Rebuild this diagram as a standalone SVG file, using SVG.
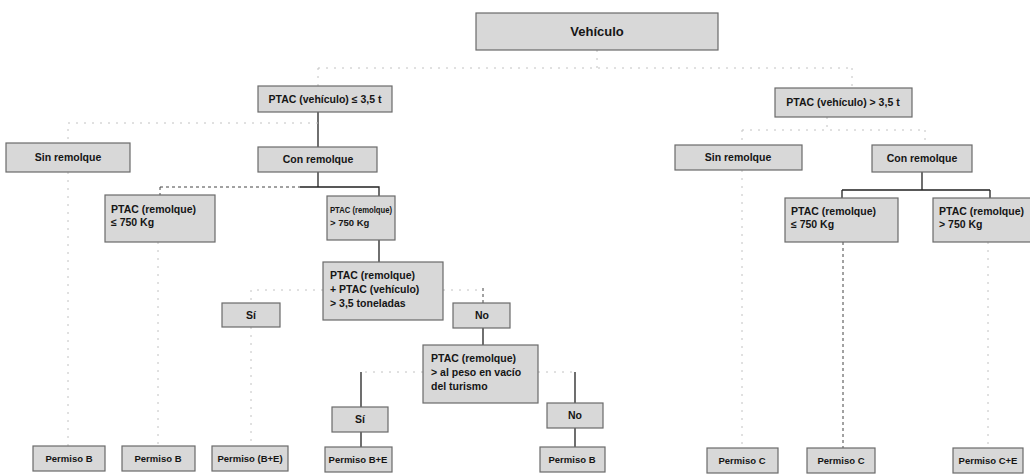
<svg xmlns="http://www.w3.org/2000/svg" width="1030" height="474" viewBox="0 0 1030 474">
<style>
.box{fill:#d8d8d8;stroke:#6a6a6a;stroke-width:1.2}
.t{font-family:"Liberation Sans",Arial,sans-serif;font-size:10.5px;font-weight:bold;fill:#151515}
.s{font-size:9.5px}
.c{text-anchor:middle}
.solid{fill:none;stroke:#222;stroke-width:1.3}
.faint{fill:none;stroke:#c2c2c2;stroke-width:1;stroke-dasharray:2 6}
.dash{fill:none;stroke:#444;stroke-width:1;stroke-dasharray:3 3}
</style>
<rect width="1030" height="474" fill="#fff"/>
<g id="connectors">
  <path class="faint" d="M597 50 V68 M318 68 H852 M318 68 V86 M852 68 V88"/>
  <path class="solid" d="M318 112 V147"/>
  <path class="faint" d="M318 123 H68 V143"/>
  <path class="faint" d="M68 172 V446"/>
  <path class="solid" d="M318 172 V187"/>
  <path class="dash" d="M160 187 H300"/>
  <path class="solid" d="M300 187 H379 V196"/>
  <path class="dash" d="M160 187 V195"/>
  <path class="faint" d="M158 242 V446"/>
  <path class="solid" d="M379 240 V262"/>
  <path class="faint" d="M323 290 H251 V303 M443 290 H483"/>
  <path class="dash" d="M483 288 V303"/>
  <path class="faint" d="M251 327 V446"/>
  <path class="solid" d="M483 328 V345"/>
  <path class="faint" d="M423 372 H361 M538 372 H575"/>
  <path class="solid" d="M361 372 V407 M361 432 V447"/>
  <path class="solid" d="M575 372 V403 M575 428 V447"/>
  <path class="faint" d="M827 117 V130 M742 130 H925 M742 130 V145 M925 130 V145"/>
  <path class="faint" d="M742 170 V448"/>
  <path class="solid" d="M922 172 V190 M842 190 H990 M842 190 V198 M990 190 V198"/>
  <path class="dash" d="M843 242 V448"/>
  <path class="faint" d="M988 242 V448"/>
</g>
<g id="n-vehiculo"><rect class="box" x="476" y="13" width="242" height="37"/><text class="t c" x="597" y="36" style="font-size:13px">Vehículo</text></g>
<g id="n-ptac-le35"><rect class="box" x="258" y="86" width="134" height="26"/><text class="t c" x="325" y="103">PTAC (vehículo) ≤ 3,5 t</text></g>
<g id="n-sin-rem-l"><rect class="box" x="6" y="143" width="124" height="29"/><text class="t c" x="68" y="161">Sin remolque</text></g>
<g id="n-con-rem-l"><rect class="box" x="258" y="147" width="119" height="25"/><text class="t c" x="318" y="163">Con remolque</text></g>
<g id="n-rem-le750-l"><rect class="box" x="105" y="195" width="110" height="47"/><text class="t" x="111" y="213">PTAC (remolque)</text><text class="t" x="111" y="226">≤ 750 Kg</text></g>
<g id="n-rem-gt750-l"><rect class="box" x="327" y="196" width="68" height="44"/><text class="t s" x="330" y="213" textLength="62" lengthAdjust="spacingAndGlyphs">PTAC (remolque)</text><text class="t s" x="330" y="226">&gt; 750 Kg</text></g>
<g id="n-suma"><rect class="box" x="323" y="262" width="120" height="58"/><text class="t" x="330" y="279">PTAC (remolque)</text><text class="t" x="330" y="293">+ PTAC (vehículo)</text><text class="t" x="330" y="307">&gt; 3,5 toneladas</text></g>
<g id="n-si-1"><rect class="box" x="222" y="303" width="58" height="24"/><text class="t c" x="251" y="319">Sí</text></g>
<g id="n-no-1"><rect class="box" x="453" y="303" width="57" height="25"/><text class="t c" x="482" y="319">No</text></g>
<g id="n-tara"><rect class="box" x="423" y="345" width="115" height="58"/><text class="t" x="431" y="362">PTAC (remolque)</text><text class="t" x="431" y="376">&gt; al peso en vacío</text><text class="t" x="431" y="390">del turismo</text></g>
<g id="n-si-2"><rect class="box" x="332" y="407" width="56" height="25"/><text class="t c" x="360" y="423">Sí</text></g>
<g id="n-no-2"><rect class="box" x="547" y="403" width="56" height="25"/><text class="t c" x="575" y="419">No</text></g>
<g id="n-perm-b1"><rect class="box" x="33" y="446" width="72" height="25"/><text class="t c s" x="69" y="462">Permiso B</text></g>
<g id="n-perm-b2"><rect class="box" x="122" y="446" width="73" height="25"/><text class="t c s" x="158" y="462">Permiso B</text></g>
<g id="n-perm-be1"><rect class="box" x="212" y="446" width="76" height="25"/><text class="t c s" x="250" y="462">Permiso (B+E)</text></g>
<g id="n-perm-be2"><rect class="box" x="325" y="447" width="67" height="25"/><text class="t c s" x="358" y="463">Permiso B+E</text></g>
<g id="n-perm-b3"><rect class="box" x="540" y="447" width="65" height="25"/><text class="t c s" x="572" y="463">Permiso B</text></g>
<g id="n-ptac-gt35"><rect class="box" x="775" y="88" width="137" height="29"/><text class="t c" x="843" y="106">PTAC (vehículo) &gt; 3,5 t</text></g>
<g id="n-sin-rem-r"><rect class="box" x="675" y="145" width="127" height="25"/><text class="t c" x="738" y="161">Sin remolque</text></g>
<g id="n-con-rem-r"><rect class="box" x="872" y="145" width="100" height="27"/><text class="t c" x="922" y="162">Con remolque</text></g>
<g id="n-rem-le750-r"><rect class="box" x="785" y="198" width="113" height="44"/><text class="t" x="791" y="215">PTAC (remolque)</text><text class="t" x="791" y="228">≤ 750 Kg</text></g>
<g id="n-rem-gt750-r"><rect class="box" x="933" y="198" width="105" height="44"/><text class="t" x="939" y="215">PTAC (remolque)</text><text class="t" x="939" y="228">&gt; 750 Kg</text></g>
<g id="n-perm-c1"><rect class="box" x="707" y="448" width="71" height="25"/><text class="t c s" x="742" y="464">Permiso C</text></g>
<g id="n-perm-c2"><rect class="box" x="807" y="448" width="68" height="25"/><text class="t c s" x="841" y="464">Permiso C</text></g>
<g id="n-perm-ce"><rect class="box" x="953" y="448" width="70" height="25"/><text class="t c s" x="988" y="464">Permiso C+E</text></g>
</svg>
